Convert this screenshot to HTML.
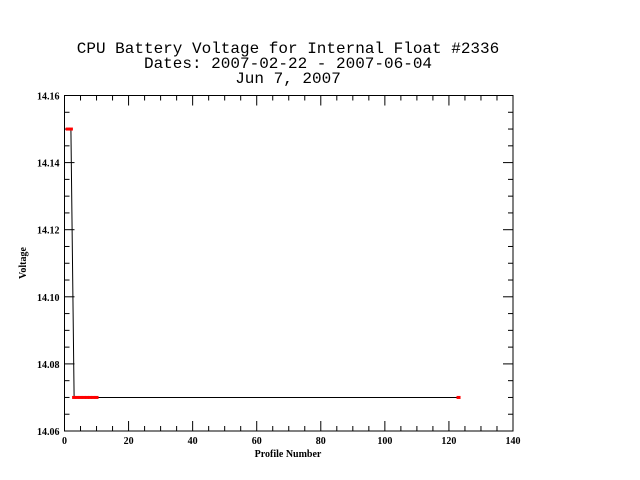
<!DOCTYPE html>
<html><head><meta charset="utf-8"><style>
html,body{margin:0;padding:0;background:#fff;}
svg{display:block;}
.t{font-family:"Liberation Mono",monospace;font-size:16px;fill:#000;}
.k{font-family:"Liberation Serif",serif;font-size:10px;font-weight:bold;fill:#000;}
</style></head><body>
<svg id="chart" width="640" height="480" xmlns="http://www.w3.org/2000/svg">
<rect width="640" height="480" fill="#fff"/>
<text class="t" x="288" y="53" text-anchor="middle">CPU Battery Voltage for Internal Float #2336</text>
<text class="t" x="288" y="68" text-anchor="middle">Dates:  2007-02-22 -  2007-06-04</text>
<text class="t" x="288" y="83" text-anchor="middle">Jun  7, 2007</text>
<rect x="64.5" y="95.5" width="448.5" height="335.5" fill="none" stroke="#000" stroke-width="1"/>
<g id="axes"></g>
<g id="marks"></g>
<text class="k" x="288" y="457" text-anchor="middle">Profile Number</text>
<text class="k" x="26" y="263" text-anchor="middle" transform="rotate(-90 26 263)">Voltage</text>
</svg>
<script>
const xValues=[1,2,3,4,5,6,7,8,9,10,123];
const yValues=[14.15,14.15,14.07,14.07,14.07,14.07,14.07,14.07,14.07,14.07,14.07];
const xTicks=[0,20,40,60,80,100,120,140];
const yTicks=[14.06,14.08,14.10,14.12,14.14,14.16];
const X0=64.5,X1=513,Y0=431,Y1=95.5;
const xMin=0,xMax=140,yMin=14.06,yMax=14.16;
function sx(v){return X0+(v-xMin)/(xMax-xMin)*(X1-X0);}
function sy(v){return Y0-(v-yMin)/(yMax-yMin)*(Y0-Y1);}
const NS="http://www.w3.org/2000/svg";
const axes=document.getElementById('axes'),marks=document.getElementById('marks');
function ln(p,x1,y1,x2,y2,c){const l=document.createElementNS(NS,'line');l.setAttribute('x1',x1);l.setAttribute('y1',y1);l.setAttribute('x2',x2);l.setAttribute('y2',y2);l.setAttribute('stroke',c||'#000');l.setAttribute('stroke-width','1');p.appendChild(l);return l;}
for(let v=xMin;v<=xMax;v+=5){const x=sx(v);const major=(v%20===0);const len=major?10:5;
 const a=ln(axes,x,Y0,x,Y0-len);
 
 
 const b=ln(axes,x,Y1,x,Y1+len);
 
 }
for(let i=0;i<=20;i++){const v=yMin+i*0.005;const y=sy(v);const major=(i%4===0);const len=major?10:5;
 const a=ln(axes,X0,y,X0+len,y);
 
 
 const b=ln(axes,X1,y,X1-len,y);
 
 }
xTicks.forEach(v=>{const t=document.createElementNS(NS,'text');t.setAttribute('class','k');t.setAttribute('x',sx(v));t.setAttribute('y',Y0+13);t.setAttribute('text-anchor','middle');t.textContent=v;
 
 
 axes.appendChild(t);});
yTicks.forEach(v=>{const t=document.createElementNS(NS,'text');t.setAttribute('class','k');t.setAttribute('x',X0-5);t.setAttribute('y',sy(v)+4);t.setAttribute('text-anchor','end');t.textContent=v.toFixed(2);
 
 
 axes.appendChild(t);});
const pl=document.createElementNS(NS,'polyline');
pl.setAttribute('points',xValues.map((x,i)=>sx(x)+','+sy(yValues[i])).join(' '));
pl.setAttribute('fill','none');pl.setAttribute('stroke','#000');pl.setAttribute('stroke-width','1');


marks.appendChild(pl);
xValues.forEach((x,i)=>{const r=document.createElementNS(NS,'rect');r.setAttribute('x',sx(x)-2);r.setAttribute('y',sy(yValues[i])-1.5);r.setAttribute('width',4);r.setAttribute('height',3);r.setAttribute('fill','#f00');
 
 
 marks.appendChild(r);});
</script>
</body></html>
